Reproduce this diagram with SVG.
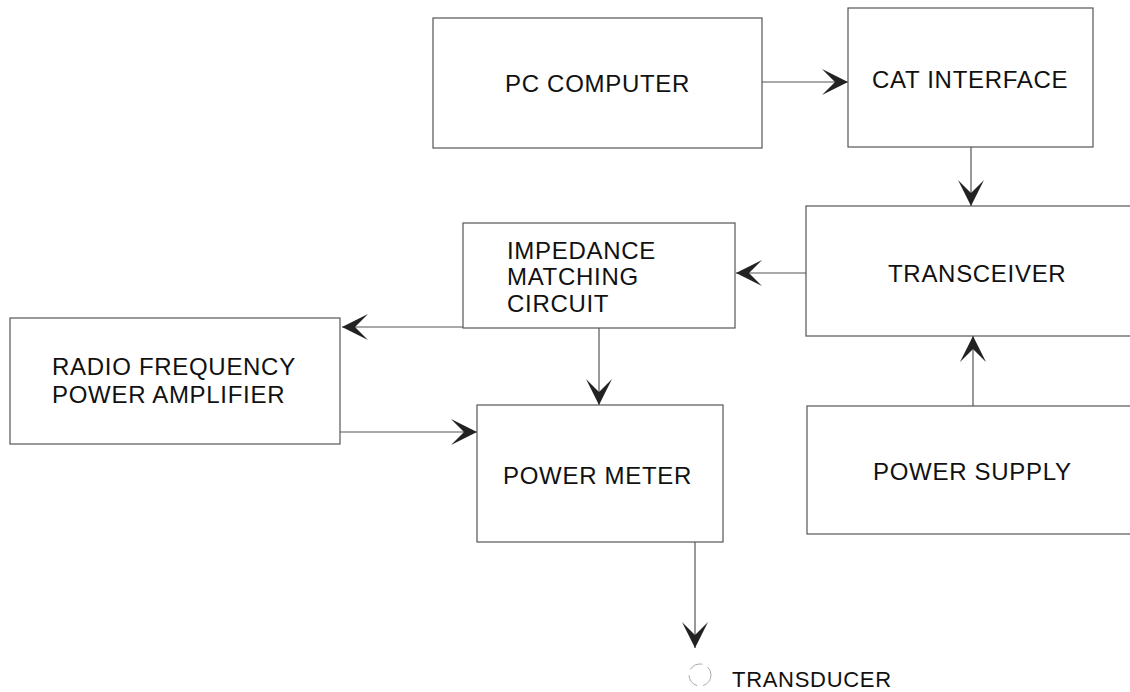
<svg xmlns="http://www.w3.org/2000/svg" width="1130" height="692" viewBox="0 0 1130 692">
<style>
.box{fill:#fff;stroke:#555;stroke-width:1.2}
.lbl{font-family:"Liberation Sans",Arial,sans-serif;font-size:24px;fill:#111;letter-spacing:0.7px}
.wire{fill:none;stroke:#555;stroke-width:1.2}
</style>
<defs>
<marker id="ah" markerUnits="userSpaceOnUse" markerWidth="30" markerHeight="30" viewBox="-28 -15 30 30" refX="0" refY="0" orient="auto">
<path d="M0,0 L-26,-13 L-13,0 L-26,13 Z" fill="#222"/>
</marker>
</defs>
<rect width="1130" height="692" fill="#fff"/>
<g id="connectors">
<line class="wire" x1="762" y1="82" x2="848" y2="82" marker-end="url(#ah)"/>
<line class="wire" x1="971" y1="147" x2="971" y2="206" marker-end="url(#ah)"/>
<line class="wire" x1="806" y1="273" x2="736" y2="273" marker-end="url(#ah)"/>
<line class="wire" x1="463" y1="327" x2="342" y2="327" marker-end="url(#ah)"/>
<line class="wire" x1="599" y1="328" x2="599" y2="405" marker-end="url(#ah)"/>
<line class="wire" x1="340" y1="432" x2="477" y2="432" marker-end="url(#ah)"/>
<line class="wire" x1="973" y1="406" x2="973" y2="336" marker-end="url(#ah)"/>
<line class="wire" x1="695" y1="542" x2="695" y2="648" marker-end="url(#ah)"/>
</g>
<g id="pc">
<rect class="box" x="433" y="18" width="329" height="130"/>
<text class="lbl" x="505" y="92">PC COMPUTER</text>
</g>
<g id="cat">
<rect class="box" x="848" y="8" width="245" height="139"/>
<text class="lbl" x="872" y="88">CAT INTERFACE</text>
</g>
<g id="transceiver">
<rect class="box" x="806" y="206" width="340" height="130"/>
<text class="lbl" x="888" y="282">TRANSCEIVER</text>
</g>
<g id="impedance">
<rect class="box" x="463" y="223" width="272" height="105"/>
<text class="lbl" x="507" y="259">IMPEDANCE</text>
<text class="lbl" x="507" y="285">MATCHING</text>
<text class="lbl" x="507" y="312">CIRCUIT</text>
</g>
<g id="rfamp">
<rect class="box" x="10" y="318" width="330" height="126"/>
<text class="lbl" x="52" y="375">RADIO FREQUENCY</text>
<text class="lbl" x="52" y="403">POWER AMPLIFIER</text>
</g>
<g id="powermeter">
<rect class="box" x="477" y="405" width="246" height="137"/>
<text class="lbl" x="503" y="484">POWER METER</text>
</g>
<g id="powersupply">
<rect class="box" x="807" y="406" width="340" height="128"/>
<text class="lbl" x="873" y="480">POWER SUPPLY</text>
</g>
<g id="transducer">
<circle cx="700" cy="675" r="11" fill="none" stroke="#aaa" stroke-width="1" stroke-dasharray="14 6"/>
<text class="lbl" x="732" y="687" style="font-size:22px">TRANSDUCER</text>
</g>
</svg>
